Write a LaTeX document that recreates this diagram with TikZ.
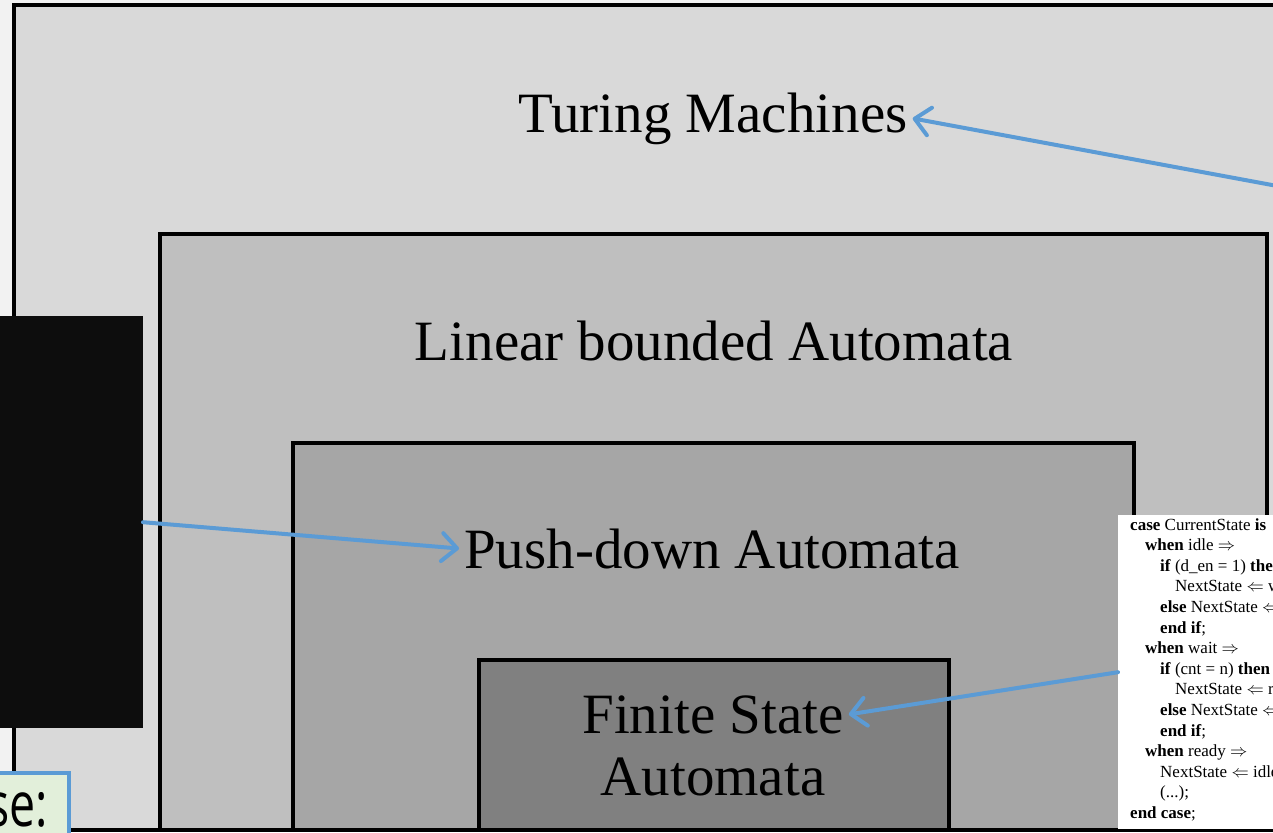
\documentclass[tikz,border=0pt]{standalone}
\usepackage{fontspec}
\setmainfont{Liberation Serif}
\newfontfamily\notefont{Open Sans}
\usetikzlibrary{arrows.meta}

\definecolor{pagebg}{HTML}{F2F2F2}
\definecolor{lvlA}{HTML}{D9D9D9}
\definecolor{lvlB}{HTML}{BFBFBF}
\definecolor{lvlC}{HTML}{A6A6A6}
\definecolor{lvlD}{HTML}{808080}
\definecolor{pointer}{HTML}{5B9BD5}
\definecolor{notefill}{HTML}{E2EFDA}
\definecolor{nearblack}{HTML}{0D0D0D}

\tikzset{
  level/.style={draw=black, line width=3.5pt},
  title/.style={font=\fontsize{57}{62}\selectfont, inner sep=5pt, anchor=base},
  pointerline/.style={draw=pointer, line width=4pt, line cap=round,
    -{Straight Barb[length=15pt,width=28pt,line cap=round,line join=round]}},
}

\begin{document}
\begin{tikzpicture}[x=1pt, y=-1pt]
  \useasboundingbox (0,0) rectangle (1273,832);
  \clip (0,0) rectangle (1273,832);
  \fill[pagebg] (0,0) rectangle (1273,832);

  % nested language classes
  \filldraw[level, fill=lvlA] (14,5) rectangle (1290,830);
  \filldraw[level, fill=lvlB] (160,234) rectangle (1267,830);
  \filldraw[level, fill=lvlC] (293,443) rectangle (1134,830);
  \filldraw[level, fill=lvlD] (479,660) rectangle (949,830);

  \node[title] (tm)  at (713,132) {Turing Machines};
  \node[title] (lba) at (714,360) {Linear bounded Automata};
  \node[title] (pda) at (712,568) {Push-down Automata};
  \node[title] (fsa1) at (713,733) {Finite State};
  \node[title] (fsa2) at (713,795) {Automata};

  % dark panel on the left
  \node[fill=nearblack, minimum width=150pt, minimum height=412pt, inner sep=0pt,
        anchor=north east] (panel) at (143,316) {};

  % note box at the bottom left
  \node[fill=notefill, draw=pointer, line width=4pt, minimum width=100pt,
        minimum height=70pt, anchor=north east] (note) at (71,771) {};
  \node[font=\notefont\fontsize{62}{70}\selectfont, anchor=base east, inner sep=0pt,
        xscale=0.75] (notetext) at (48,826) {se:};

  % code listing on the right
  \node[fill=white, minimum width=200pt, minimum height=314pt, inner sep=0pt,
        anchor=north west] (code) at (1118,515) {};
  \node[font=\fontsize{17}{20.6}\selectfont, align=left, anchor=north west,
        inner sep=0pt] (listing) at (1130,518) {%
    \textbf{case} CurrentState \textbf{is}\\
    \hspace*{15pt}\textbf{when} idle $\Rightarrow$\\
    \hspace*{30pt}\textbf{if} (d\_en = 1) \textbf{then}\\
    \hspace*{45pt}NextState $\Leftarrow$ wait;\\
    \hspace*{30pt}\textbf{else} NextState $\Leftarrow$ idle;\\
    \hspace*{30pt}\textbf{end if};\\
    \hspace*{15pt}\textbf{when} wait $\Rightarrow$\\
    \hspace*{30pt}\textbf{if} (cnt = n) \textbf{then}\\
    \hspace*{45pt}NextState $\Leftarrow$ ready;\\
    \hspace*{30pt}\textbf{else} NextState $\Leftarrow$ wait;\\
    \hspace*{30pt}\textbf{end if};\\
    \hspace*{15pt}\textbf{when} ready $\Rightarrow$\\
    \hspace*{30pt}NextState $\Leftarrow$ idle;\\
    \hspace*{30pt}(...);\\
    \textbf{end case};};

  % pointers
  \coordinate (tmtail) at (1300,190.2);
  \draw[pointerline] (tmtail) -- (tm.east);
  \draw[pointerline] (panel.east) -- (pda.west);
  \draw[pointerline] (code.west) -- (fsa1.east);
\end{tikzpicture}
\end{document}
